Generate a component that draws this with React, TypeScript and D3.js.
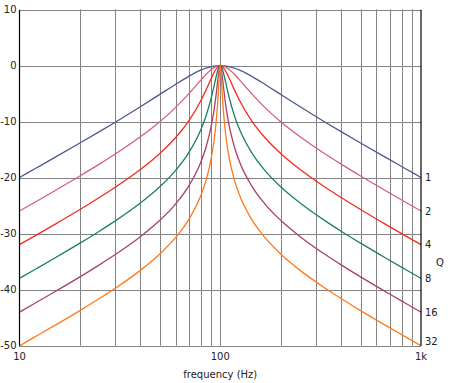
import React from "react";
import * as d3 from "d3";

const frequencies = [
  10, 12, 15, 20, 25, 30, 40, 50, 60, 70, 80, 85, 90, 93, 95, 97, 98, 99, 100,
  101.01, 102.04, 103.09, 105.26, 107.53, 111.11, 117.65, 125, 142.86, 166.67,
  200, 250, 333.33, 400, 500, 666.67, 833.33, 1000,
];

const q1 = [
  -19.96, -18.35, -16.38, -13.81, -11.78, -10.09, -7.33, -5.12, -3.30, -1.85, -0.80, -0.44, -0.19, -0.09, -0.05, -0.02, -0.01, 0, 0,
  0, -0.01, -0.02, -0.05, -0.09, -0.19, -0.44, -0.80, -1.85, -3.30, -5.12, -7.33, -10.09, -11.78, -13.81, -16.38, -18.35, -19.96,
];
const q2 = [
  -25.94, -24.33, -22.33, -19.69, -17.58, -15.78, -12.70, -10.0, -7.44, -4.95, -2.58, -1.54, -0.71, -0.35, -0.18, -0.06, -0.03, -0.01, 0,
  -0.01, -0.03, -0.06, -0.18, -0.35, -0.71, -1.54, -2.58, -4.95, -7.44, -10.0, -12.70, -15.78, -17.58, -19.69, -22.33, -24.33, -25.94,
];
const q4 = [
  -31.96, -30.34, -28.33, -25.68, -23.54, -21.71, -18.55, -15.68, -12.83, -9.77, -6.27, -4.32, -2.34, -1.26, -0.68, -0.25, -0.11, -0.03, 0,
  -0.03, -0.11, -0.25, -0.68, -1.26, -2.34, -4.32, -6.27, -9.77, -12.83, -15.68, -18.55, -21.71, -23.54, -25.68, -28.33, -30.34, -31.96,
];
const q8 = [
  -37.98, -36.35, -34.34, -31.69, -29.55, -27.71, -24.52, -21.61, -18.68, -15.44, -11.45, -8.93, -5.86, -3.71, -2.24, -0.93, -0.43, -0.11, 0,
  -0.11, -0.43, -0.93, -2.24, -3.71, -5.86, -8.93, -11.45, -15.44, -18.68, -21.61, -24.52, -27.71, -29.55, -31.69, -34.34, -36.35, -37.98,
];
const q16 = [
  -44.0, -42.37, -40.36, -37.71, -35.56, -33.72, -30.53, -27.61, -24.66, -21.36, -17.23, -14.52, -10.94, -8.06, -5.68, -2.90, -1.52, -0.43, 0,
  -0.43, -1.52, -2.90, -5.68, -8.06, -10.94, -14.52, -17.23, -21.36, -24.66, -27.61, -30.53, -33.72, -35.56, -37.71, -40.36, -42.37, -44.0,
];
const q32 = [
  -50.02, -48.39, -46.38, -43.73, -41.58, -39.74, -36.55, -33.63, -30.67, -27.36, -23.19, -20.42, -16.69, -13.54, -10.71, -6.81, -4.27, -1.50, 0,
  -1.50, -4.27, -6.81, -10.71, -13.54, -16.69, -20.42, -23.19, -27.36, -30.67, -33.63, -36.55, -39.74, -41.58, -43.73, -46.38, -48.39, -50.02,
];

const seriesNames = ["1", "2", "4", "8", "16", "32"];
const seriesValues = [q1, q2, q4, q8, q16, q32];
const seriesColors = ["#4a5a8e", "#d3607f", "#f82a1c", "#1b7f64", "#aa3f6e", "#ff7a1c"];
const labelValues = [-20, -26, -32, -38, -44, -49.2];

const yTicks = [10, 0, -10, -20, -30, -40, -50];
const xTickValues = [10, 100, 1000];
const xTickLabels = ["10", "100", "1k"];
const xGridValues = [20, 30, 40, 50, 60, 70, 80, 90, 100, 200, 300, 400, 500, 600, 700, 800, 900];

const W = 450;
const H = 383;
const left = 19.5;
const right = 421;
const top = 9.7;
const bottom = 345.7;

export default function App() {
  const x = d3.scaleLog().domain([10, 1000]).range([left, right]);
  const y = d3.scaleLinear().domain([-50, 10]).range([bottom, top]);
  const font = "'DejaVu Sans', Verdana, sans-serif";

  const line = d3
    .line<[number, number]>()
    .x((d) => x(d[0]))
    .y((d) => y(d[1]))
    .curve(d3.curveMonotoneX);

  return (
    <svg width={W} height={H} style={{ position: "absolute", left: 0, top: 0, background: "#fff" }}>
      <g>
        {xGridValues.map((v) => (
          <g key={"gx" + v}>
            <line x1={Math.round(x(v)) + 0.5} x2={Math.round(x(v)) + 0.5} y1={top} y2={bottom} stroke="#b0b0b0" strokeWidth={1} />
            <line x1={Math.round(x(v)) + 0.5} x2={Math.round(x(v)) + 0.5} y1={top} y2={bottom} stroke="#555" strokeWidth={1} strokeDasharray="1,1" />
          </g>
        ))}
        {yTicks.map((v) => (
          <g key={"gy" + v}>
            <line x1={left} x2={right} y1={Math.round(y(v)) + 0.5} y2={Math.round(y(v)) + 0.5} stroke="#b0b0b0" strokeWidth={1} />
            <line x1={left} x2={right} y1={Math.round(y(v)) + 0.5} y2={Math.round(y(v)) + 0.5} stroke="#555" strokeWidth={1} strokeDasharray="1,1" />
          </g>
        ))}
      </g>
      <g>
        {seriesValues.map((vals, i) => (
          <path
            key={"s" + i}
            d={line(frequencies.map((f, j) => [f, vals[j]] as [number, number])) || ""}
            fill="none"
            stroke={seriesColors[i]}
            strokeWidth={1.3}
          />
        ))}
      </g>
      <line x1={left} x2={left} y1={top} y2={bottom} stroke="#000" strokeWidth={1.2} />
      <line x1={right} x2={right} y1={top} y2={bottom} stroke="#000" strokeWidth={1.2} />
      <g fontFamily={font} fontSize={10} fill="#222">
        {yTicks.map((v) => (
          <text key={"yt" + v} x={left - 3} y={y(v)} textAnchor="end" dominantBaseline="central">
            {String(v)}
          </text>
        ))}
        {xTickValues.map((v, i) => (
          <text key={"xt" + v} x={x(v)} y={bottom + 11} textAnchor="middle" dominantBaseline="central">
            {xTickLabels[i]}
          </text>
        ))}
        <text x={x(100)} y={374} textAnchor="middle" dominantBaseline="central">
          frequency (Hz)
        </text>
        {seriesNames.map((n, i) => (
          <text key={"ql" + n} x={right + 4} y={y(labelValues[i])} dominantBaseline="central">
            {n}
          </text>
        ))}
        <text x={440} y={262} textAnchor="middle" dominantBaseline="central">
          Q
        </text>
      </g>
    </svg>
  );
}
